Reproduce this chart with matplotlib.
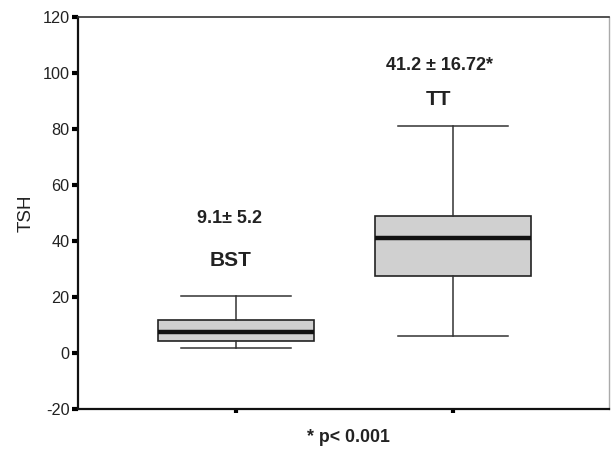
import matplotlib
matplotlib.use("Agg")
import matplotlib.pyplot as plt

plt.rcParams['font.family'] = ['Liberation Sans', 'DejaVu Sans']

groups = ["BST", "TT"]
q1 = [4.3, 27.6]
medians = [7.6, 41.2]
q3 = [11.8, 48.9]
whislo = [1.9, 6.0]
whishi = [20.4, 81.1]
mean_sd_labels = ["9.1\u00b1 5.2", "41.2 \u00b1 16.72*"]
yticks = [-20, 0, 20, 40, 60, 80, 100, 120]

fig = plt.figure(figsize=(6.11, 4.5), dpi=100)
ax = fig.add_axes([78/611, 1-409/450, (609-78)/611, (409-17)/450])

stats = []
for i, g in enumerate(groups):
    stats.append(dict(label=g, q1=q1[i], med=medians[i], q3=q3[i],
                      whislo=whislo[i], whishi=whishi[i], fliers=[]))
positions = [1, 2]
ax.bxp(stats, positions=positions, widths=0.72, patch_artist=True,
       showfliers=False, capwidths=0.51,
       boxprops=dict(facecolor='#d0d0d0', edgecolor='#222222', linewidth=1.2),
       medianprops=dict(color='#111111', linewidth=3.2),
       whiskerprops=dict(color='#333333', linewidth=1.1),
       capprops=dict(color='#333333', linewidth=1.1))

ax.set_xlim(0.272, 2.719)
ax.set_ylim(-20, 120)
ax.set_yticks(yticks)
ax.set_yticklabels([str(t) for t in yticks], fontsize=11.7, color='#222222')
ax.set_xticks(positions)
ax.set_xticklabels([])
ax.tick_params(axis='y', length=4, width=3, direction='out', pad=2)
ax.tick_params(axis='x', length=3, width=3, direction='out')

for s in ['left', 'bottom']:
    ax.spines[s].set_linewidth(1.6)
    ax.spines[s].set_color('#111111')
ax.spines['top'].set_linewidth(1.2)
ax.spines['top'].set_color('#333333')
ax.spines['right'].set_linewidth(1.0)
ax.spines['right'].set_color('#aaaaaa')

ax.set_ylabel("TSH", fontsize=13.5, color='#222222', labelpad=6)

ax.text(0.968, 48.2, mean_sd_labels[0], ha='center', va='center', fontsize=13, fontweight='bold', color='#222222')
ax.text(0.977, 32.9, groups[0], ha='center', va='center', fontsize=15, fontweight='bold', color='#222222')
ax.text(1.94, 102.5, mean_sd_labels[1], ha='center', va='center', fontsize=13, fontweight='bold', color='#222222')
ax.text(1.935, 90.7, groups[1], ha='center', va='center', fontsize=15, fontweight='bold', color='#222222')

fig.text(348/611, 1-438/450, "* p< 0.001", ha='center', va='center', fontsize=12.8, fontweight='bold', color='#222222')

fig.savefig("out.png", dpi=100, facecolor='white')
